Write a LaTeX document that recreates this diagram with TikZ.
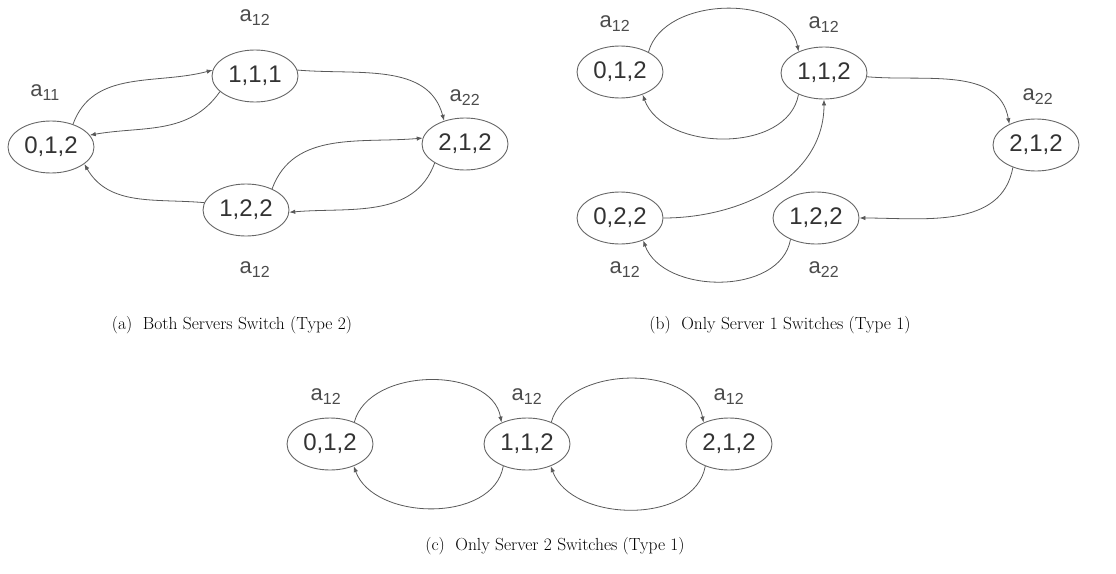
\documentclass[tikz,border=0pt]{standalone}
\usepackage{fontspec}
\newfontfamily\arialfont{Liberation Sans}
\usetikzlibrary{shapes.geometric,arrows.meta}
\tikzset{
  st/.style={ellipse, draw=black!60, line width=0.9pt, minimum width=86pt, minimum height=52pt, inner sep=0pt,
    font=\arialfont\fontsize{24}{26}\selectfont, text=black!80},
  lab/.style={font=\arialfont\fontsize{22}{24}\selectfont, text=black!70, inner sep=0pt},
  captxt/.style={font=\fontsize{17.5}{19}\selectfont, inner sep=0pt},
  tr/.style={draw=black!65, line width=0.8pt, -{Latex[length=6pt,width=4.5pt]}}
}
\newcommand{\sub}[1]{a\textsubscript{\fontsize{16}{18}\selectfont #1}}
\begin{document}
\begin{tikzpicture}[x=1pt,y=1pt]
\useasboundingbox (0,0) rectangle (1116,-573);
% (a)
\node[st] (a012) at (51,-147) {0,1,2};
\node[st] (a111) at (255,-76) {1,1,1};
\node[st] (a212) at (465,-144) {2,1,2};
\node[st] (a122) at (246,-210) {1,2,2};
\node[lab] (la1) at (255,-18) {\sub{12}};
\node[lab] (la2) at (45,-93) {\sub{11}};
\node[lab] (la3) at (465,-98) {\sub{22}};
\node[lab] (la4) at (255,-270) {\sub{12}};
\draw[tr] (a012.46) to[out=70,in=195] (a111.172);
\draw[tr] (a111.204) to[out=235,in=10] (a012.17);
\draw[tr] (a111.8) to[out=-5,in=105] (a212.132);
\draw[tr] (a122.39) to[out=70,in=185] (a212.172);
\draw[tr] (a212.212) to[out=250,in=5] (a122.357);
\draw[tr] (a122.170) to[out=175,in=-60] (a012.333);
\node[captxt] (capa) at (232,-325) {(a)\ \ Both Servers Switch (Type 2)};
% (b)
\node[st] (b012) at (620,-72) {0,1,2};
\node[st] (b112) at (824,-73) {1,1,2};
\node[st] (b212) at (1036,-145) {2,1,2};
\node[st] (b022) at (620,-218) {0,2,2};
\node[st] (b122) at (816,-218) {1,2,2};
\node[lab] (lb1) at (615,-24) {\sub{12}};
\node[lab] (lb2) at (824,-25) {\sub{12}};
\node[lab] (lb3) at (1038,-97) {\sub{22}};
\node[lab] (lb4) at (625,-270) {\sub{12}};
\node[lab] (lb5) at (824,-270) {\sub{22}};
\draw[tr] (b012.35) to[out=75,in=100] (b112.140);
\draw[tr] (b112.220) to[out=-100,in=-70] (b012.315);
\draw[tr] (b112.-5) to[out=-5,in=100] (b212.142);
\draw[tr] (b022.0) to[out=0,in=-90] (b112.270);
\draw[tr] (b212.224) to[out=-100,in=0] (b122.0);
\draw[tr] (b122.220) to[out=-100,in=-70] (b022.316);
\node[captxt] (capb) at (780,-325) {(b)\ \ Only Server 1 Switches (Type 1)};
% (c)
\node[st] (c012) at (330,-444) {0,1,2};
\node[st] (c112) at (527,-444) {1,1,2};
\node[st] (c212) at (729,-444) {2,1,2};
\node[lab] (lc1) at (326,-397) {\sub{12}};
\node[lab] (lc2) at (527,-397) {\sub{12}};
\node[lab] (lc3) at (729,-397) {\sub{12}};
\draw[tr] (c012.42) to[out=75,in=100] (c112.140);
\draw[tr] (c112.223) to[out=-100,in=-70] (c012.317);
\draw[tr] (c112.42) to[out=75,in=100] (c212.140);
\draw[tr] (c212.223) to[out=-100,in=-70] (c112.317);
\node[captxt] (capc) at (555,-546) {(c)\ \ Only Server 2 Switches (Type 1)};
\end{tikzpicture}
\end{document}
